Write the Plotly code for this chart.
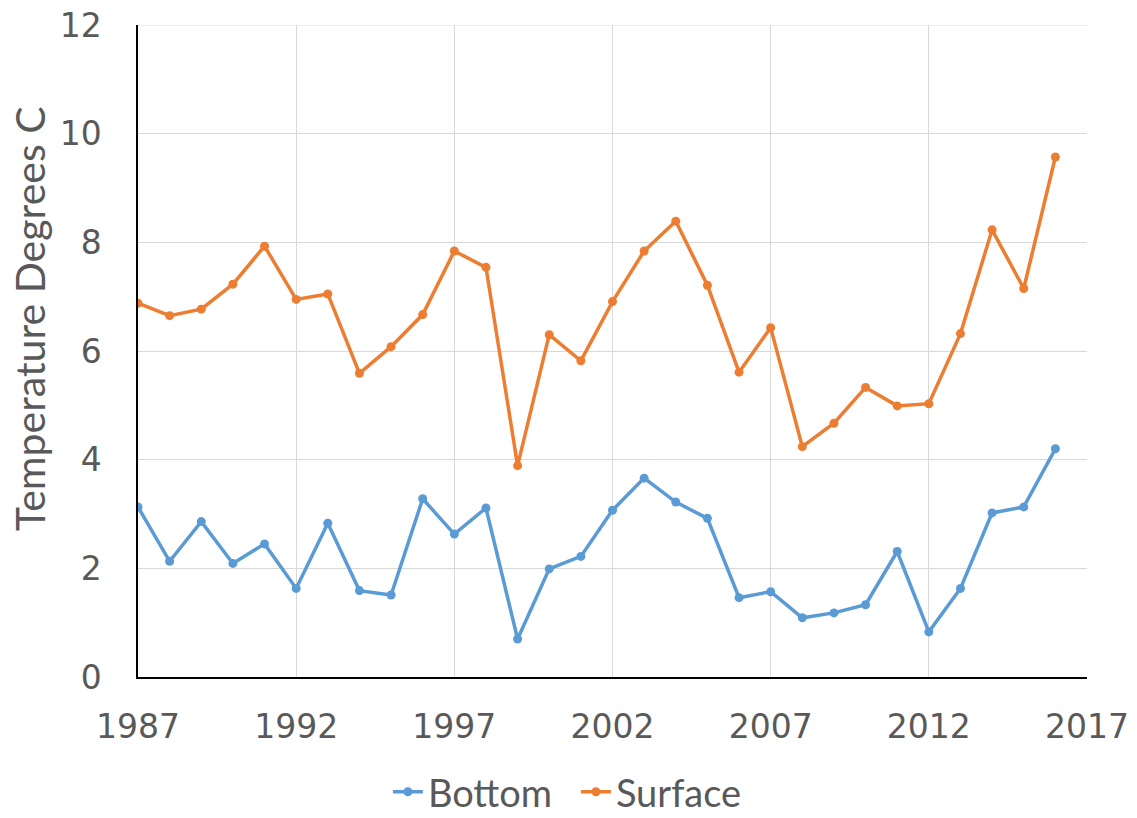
import plotly.graph_objects as go

years = list(range(1987, 2017))
bottom = [3.13, 2.13, 2.86, 2.09, 2.45, 1.63, 2.83, 1.59, 1.51, 3.28,
          2.63, 3.11, 0.70, 1.99, 2.22, 3.07, 3.66, 3.22, 2.92, 1.46,
          1.57, 1.09, 1.18, 1.33, 2.31, 0.83, 1.63, 3.02, 3.13, 4.20]
surface = [6.88, 6.65, 6.77, 7.23, 7.93, 6.95, 7.05, 5.59, 6.08, 6.67,
           7.84, 7.54, 3.89, 6.30, 5.82, 6.91, 7.84, 8.39, 7.21, 5.61,
           6.43, 4.24, 4.67, 5.33, 4.99, 5.03, 6.32, 8.23, 7.15, 9.57]
x_ticks = [1987, 1992, 1997, 2002, 2007, 2012, 2017]
y_ticks = [0, 2, 4, 6, 8, 10, 12]

fig = go.Figure()
fig.add_trace(go.Scatter(x=years, y=bottom, name="Bottom", mode="lines+markers",
                         line=dict(color="#5B9BD5", width=3.5),
                         marker=dict(color="#5B9BD5", size=9)))
fig.add_trace(go.Scatter(x=years, y=surface, name="Surface", mode="lines+markers",
                         line=dict(color="#ED7D31", width=3.5),
                         marker=dict(color="#ED7D31", size=9)))

tick_font = dict(family="DejaVu Sans", size=33, color="#595959")
fig.update_layout(
    width=1129, height=810,
    margin=dict(l=130, r=50, t=17, b=141, autoexpand=False),
    paper_bgcolor="white", plot_bgcolor="white",
    showlegend=True,
    legend=dict(orientation="h", xref="container", yref="container",
                x=0.503, xanchor="center", y=0.032, yanchor="middle",
                font=dict(family="Lato", size=38, color="#595959"),
                entrywidth=143, itemwidth=30),
    xaxis=dict(range=[1987, 2017], tickvals=x_ticks, tickfont=tick_font,
               showgrid=True, gridcolor="#D9D9D9", gridwidth=1,
               showline=True, linecolor="black", linewidth=1.5,
               zeroline=False, ticks="", ticklabelstandoff=20, automargin=False,
               ticklabeloverflow="allow"),
    yaxis=dict(range=[0, 12], tickvals=y_ticks, tickfont=tick_font,
               showgrid=True, gridcolor="#D9D9D9", gridwidth=1,
               showline=True, linecolor="black", linewidth=1.5,
               zeroline=False, ticks="", ticklabelstandoff=28, automargin=False,
               ticklabeloverflow="allow"),
    shapes=[dict(type="line", xref="paper", yref="y", x0=0, x1=1, y0=12, y1=12,
                 line=dict(color="#D9D9D9", width=1), layer="below")],
    annotations=[dict(text="Temperature Degrees C", textangle=-90,
                      xref="paper", yref="paper", x=(30 - 138) / 949,
                      y=(677 - 319) / 652, xanchor="center", yanchor="middle",
                      showarrow=False,
                      font=dict(family="Lato", size=41, color="#595959"))],
)
fig.write_html("out.html")
